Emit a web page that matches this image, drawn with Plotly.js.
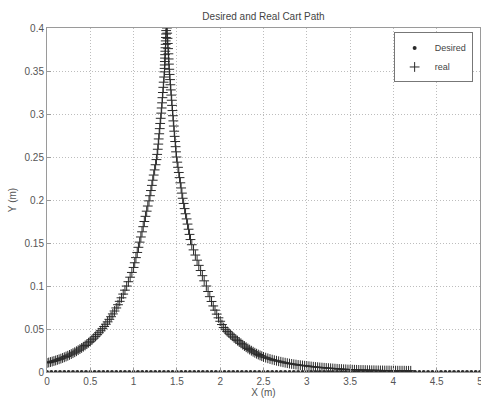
<!DOCTYPE html>
<html>
<head>
<meta charset="utf-8">
<script src="https://cdn.plot.ly/plotly-3.0.1.min.js"></script>
<style>html,body{margin:0;padding:0;background:#fff;}#chart{width:481px;height:401px;}</style>
</head>
<body>
<div id="chart"></div>
<script>
// Desired path (y = 0 along the whole range)
var desiredX = [0,0.05,0.1,0.15,0.2,0.25,0.3,0.35,0.4,0.45,0.5,0.55,0.6,0.65,0.7,0.75,0.8,0.85,0.9,0.95,
1,1.05,1.1,1.15,1.2,1.25,1.3,1.35,1.4,1.45,1.5,1.55,1.6,1.65,1.7,1.75,1.8,1.85,1.9,1.95,
2,2.05,2.1,2.15,2.2,2.25,2.3,2.35,2.4,2.45,2.5,2.55,2.6,2.65,2.7,2.75,2.8,2.85,2.9,2.95,
3,3.05,3.1,3.15,3.2,3.25,3.3,3.35,3.4,3.45,3.5,3.55,3.6,3.65,3.7,3.75,3.8,3.85,3.9,3.95,
4,4.05,4.1,4.15,4.2,4.25,4.3,4.35,4.4,4.45,4.5,4.55,4.6,4.65,4.7,4.75,4.8,4.85,4.9,4.95,5];
var desiredY = [0,0,0,0,0,0,0,0,0,0,0,0,0,0,0,0,0,0,0,0,
0,0,0,0,0,0,0,0,0,0,0,0,0,0,0,0,0,0,0,0,
0,0,0,0,0,0,0,0,0,0,0,0,0,0,0,0,0,0,0,0,
0,0,0,0,0,0,0,0,0,0,0,0,0,0,0,0,0,0,0,0,
0,0,0,0,0,0,0,0,0,0,0,0,0,0,0,0,0,0,0,0,0];

// Real path, rising branch
var realLeftX = [0,0.02,0.04,0.06,0.08,0.1,0.12,0.14,0.16,0.18,0.2,0.22,0.24,0.26,0.28,0.3,0.32,0.34,0.36,0.38,
0.4,0.42,0.44,0.46,0.48,0.5,0.52,0.54,0.56,0.58,0.6,0.62,0.64,0.66,0.68,0.7,0.72,0.74,0.76,0.78,
0.8,0.82,0.84,0.86,0.88,0.9,0.92,0.94,0.96,0.98,1.0,
1.013,1.027,1.042,1.056,1.07,1.084,1.097,1.111,1.124,1.137,1.151,1.164,1.178,1.189,1.2,1.211,1.221,1.232,1.243,1.254,
1.264,1.272,1.279,1.285,1.29,1.296,1.302,1.307,1.313,1.319,1.324,1.329,1.333,1.338,1.343,1.347,1.352,1.356,1.358,1.36,
1.361,1.363,1.364,1.366,1.368,1.37,1.371,1.373,1.374,1.376,1.378];
var realLeftY = [0.0105,0.01103,0.01158,0.01216,0.01277,0.01341,0.01409,0.01479,0.01554,0.01632,0.01714,0.018,0.0189,0.01985,0.02085,0.02189,0.02299,0.02415,0.02536,0.02663,
0.02797,0.02937,0.03085,0.0324,0.03402,0.03573,0.03752,0.03941,0.04139,0.04346,0.04565,0.04794,0.05034,0.05287,0.05553,0.05831,0.06124,0.06431,0.06754,0.07093,
0.07449,0.07823,0.08216,0.08628,0.09061,0.09516,0.09994,0.10496,0.11023,0.11576,0.12157,
0.127,0.133,0.139,0.145,0.151,0.157,0.163,0.169,0.175,0.181,0.187,0.193,0.199,0.205,0.211,0.217,0.223,0.229,0.235,0.241,
0.247,0.253,0.259,0.265,0.271,0.277,0.283,0.289,0.295,0.301,0.307,0.313,0.319,0.325,0.331,0.337,0.343,0.349,0.353,0.357,
0.361,0.365,0.369,0.373,0.377,0.381,0.385,0.389,0.393,0.397,0.401];

// Real path, falling branch
var realRightX = [1.385,1.388,1.392,1.395,1.398,1.402,1.405,1.408,1.412,1.416,1.421,1.425,1.43,1.435,1.44,1.444,1.449,1.454,1.459,1.464,
1.469,1.474,1.48,1.485,1.49,1.495,1.504,1.513,1.522,1.531,1.54,1.549,1.558,1.567,1.578,1.589,1.6,1.612,1.623,1.635,
1.646,1.657,1.672,1.692,1.713,1.733,1.753,1.774,1.794,1.815,
1.84,1.86,1.88,1.9,1.92,1.94,1.96,1.98,2.0,2.02,2.04,2.06,2.08,2.1,2.12,2.14,2.16,2.18,2.2,2.22,
2.24,2.26,2.28,2.3,2.32,2.34,2.36,2.38,2.4,2.42,2.44,2.46,2.48,2.5,
2.525,2.55,2.575,2.6,2.625,2.65,2.675,2.7,2.725,2.75,2.775,2.8,2.825,2.85,2.875,2.9,2.925,2.95,2.975,3.0,
3.025,3.05,3.075,3.1,3.125,3.15,3.175,3.2,3.225,3.25,3.275,3.3,3.325,3.35,3.375,3.4,3.425,3.45,3.475,3.5,
3.525,3.55,3.575,3.6,3.625,3.65,3.675,3.7,3.725,3.75,3.775,3.8,3.825,3.85,3.875,3.9,3.925,3.95,3.975,4.0,
4.025,4.05,4.075,4.1,4.125,4.15,4.175,4.2];
var realRightY = [0.4,0.394,0.388,0.382,0.376,0.37,0.364,0.358,0.352,0.346,0.34,0.334,0.328,0.322,0.316,0.31,0.304,0.298,0.292,0.286,
0.28,0.274,0.268,0.262,0.256,0.25,0.244,0.238,0.232,0.226,0.22,0.214,0.208,0.202,0.196,0.19,0.184,0.178,0.172,0.166,
0.16,0.154,0.148,0.142,0.136,0.13,0.124,0.118,0.112,0.106,
0.1,0.0936,0.0876,0.082,0.0768,0.0719,0.0673,0.063,0.059,0.0552,0.0517,0.0492,0.0472,0.0453,0.0434,0.0416,0.0398,0.0381,0.0365,0.0349,
0.0333,0.0317,0.0302,0.0288,0.0274,0.0261,0.0248,0.0236,0.0224,0.0213,0.0203,0.0193,0.0184,0.0175,
0.0167,0.0159,0.0151,0.0144,0.0137,0.0131,0.0125,0.0119,0.0113,0.0108,0.0103,0.0098,0.0094,0.009,0.0086,0.0082,0.0079,0.0076,0.0073,0.007,
0.0067,0.0064,0.0061,0.0058,0.0056,0.0053,0.0051,0.0049,0.0047,0.0045,0.0043,0.0041,0.0039,0.0037,0.0035,0.0034,0.0032,0.0031,0.0029,0.0028,
0.0027,0.0026,0.0025,0.0024,0.0023,0.0023,0.0022,0.0021,0.0021,0.002,0.002,0.0019,0.0019,0.0018,0.0018,0.0017,0.0017,0.0017,0.0016,0.0016,
0.0016,0.0015,0.0015,0.0015,0.0015,0.0014,0.0014,0.0014];

var xTicks = [0,0.5,1,1.5,2,2.5,3,3.5,4,4.5,5];
var xTickText = ['0','0.5','1','1.5','2','2.5','3','3.5','4','4.5','5'];
var yTicks = [0,0.05,0.1,0.15,0.2,0.25,0.3,0.35,0.4];
var yTickText = ['0','0.05','0.1','0.15','0.2','0.25','0.3','0.35','0.4'];

var realX = realLeftX.concat(realRightX);
var realY = realLeftY.concat(realRightY);

var ink = '#2a2a2a';
var fontFam = 'Liberation Sans, Arial, sans-serif';
var traces = [
  {x: desiredX, y: desiredY, type: 'scatter', mode: 'markers', name: 'Desired',
   marker: {symbol: 'circle', size: 4, color: ink}, cliponaxis: true},
  {x: realX, y: realY, type: 'scatter', mode: 'markers', name: 'real',
   marker: {symbol: 'cross-thin-open', size: 7, color: ink, line: {color: ink, width: 1}}, cliponaxis: true}
];

var axisCommon = {
  showgrid: true, gridcolor: '#bdbdbd', griddash: '1px,2px', gridwidth: 1,
  showline: true, linecolor: '#9a9a9a', linewidth: 1, mirror: true,
  ticks: 'inside', ticklen: 4, tickcolor: '#9a9a9a',
  zeroline: false, tickfont: {family: fontFam, size: 10, color: '#555'}
};

var layout = {
  width: 481, height: 401,
  margin: {l: 47, r: 1, t: 28, b: 29},
  paper_bgcolor: '#fff', plot_bgcolor: '#fff',
  showlegend: true,
  title: {text: 'Desired and Real Cart Path', x: 0.5, xref: 'paper', y: 0.96, yanchor: 'middle',
          font: {family: fontFam, size: 10, color: '#444'}},
  xaxis: Object.assign({}, axisCommon, {range: [0, 5], tickvals: xTicks, ticktext: xTickText, ticklabeloverflow: 'allow',
          title: {text: 'X (m)', standoff: 2, font: {family: fontFam, size: 10, color: '#555'}}}),
  yaxis: Object.assign({}, axisCommon, {range: [0, 0.4], tickvals: yTicks, ticktext: yTickText,
          title: {text: 'Y (m)', standoff: 6, font: {family: fontFam, size: 10, color: '#555'}}}),
  legend: {x: 0.983, y: 0.987, xanchor: 'right', yanchor: 'top', bgcolor: '#fff', bordercolor: '#777', borderwidth: 1,
           font: {family: fontFam, size: 9, color: '#444'}, itemwidth: 30, tracegroupgap: 0}
};

Plotly.newPlot('chart', traces, layout, {displayModeBar: false, staticPlot: true});
</script>
</body>
</html>
